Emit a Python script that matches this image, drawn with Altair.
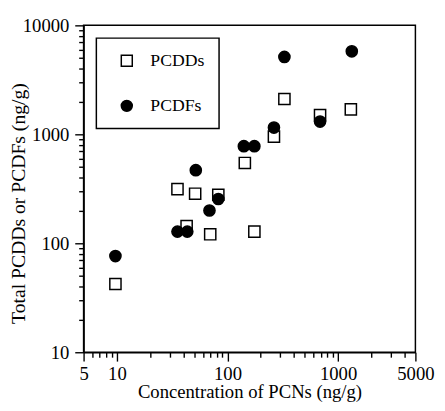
import altair as alt
import pandas as pd

# Values
series = ["PCDDs", "PCDFs"]
x_pcdd = [9.7, 35.3, 42.7, 51.0, 69.8, 82.6, 143.5, 175, 263, 327, 687, 1304]
y_pcdd = [42.3, 314, 144, 285, 121, 279, 546, 128, 951, 2110, 1503, 1692]
x_pcdf = [9.7, 35.3, 43.3, 51.7, 68.7, 82.6, 140.6, 175, 263, 327, 687, 1330]
y_pcdf = [76.3, 128, 128, 469, 200, 255, 778, 778, 1154, 5130, 1309, 5780]

x_major = [5, 10, 100, 1000, 5000]
x_minor = [6, 7, 8, 9, 20, 30, 40, 50, 60, 70, 80, 90,
           200, 300, 400, 500, 600, 700, 800, 900, 2000, 3000, 4000]
y_major = [10, 100, 1000, 10000]
y_minor = [20, 30, 40, 50, 60, 70, 80, 90, 200, 300, 400, 500, 600, 700, 800, 900,
           2000, 3000, 4000, 5000, 6000, 7000, 8000, 9000]

df = pd.DataFrame({
    "x": x_pcdd + x_pcdf,
    "y": y_pcdd + y_pcdf,
    "series": [series[0]] * len(x_pcdd) + [series[1]] * len(x_pcdf),
})

FONT = "Liberation Serif"


def major_test(vals):
    return "indexof([" + ",".join(str(v) for v in vals) + "], datum.value) >= 0"


def make_axis(major, minor, title, title_size, **kw):
    test = major_test(major)
    return alt.Axis(
        values=major + minor,
        format="d",
        labelExpr=test + " ? datum.label : ''",
        tickSize={"condition": {"test": test, "value": 9}, "value": 5},
        labelOverlap=False,
        labelFlush=False,
        grid=False,
        title=title,
        labelFont=FONT,
        labelFontSize=19,
        labelColor="black",
        titleFont=FONT,
        titleFontSize=title_size,
        titleFontWeight="normal",
        titleColor="black",
        titleBaseline="alphabetic",
        domainColor="black",
        domainWidth=1.5,
        tickColor="black",
        tickWidth=1.4,
        **kw,
    )


legend = alt.Legend(
    orient="none",
    legendX=13,
    legendY=13,
    title=None,
    strokeColor="black",
    padding=14,
    rowPadding=28,
    symbolOffset=8,
    labelOffset=15,
    labelFont=FONT,
    labelFontSize=18,
    labelColor="black",
    symbolStrokeColor="black",
    symbolStrokeWidth=1.5,
    symbolSize=125,
)

chart = alt.Chart(df).mark_point(
    size=130, strokeWidth=1.5, opacity=1
).encode(
    x=alt.X("x:Q", scale=alt.Scale(type="log", domain=[5, 5000], nice=False),
            axis=make_axis(x_major, x_minor, "Concentration of PCNs (ng/g)", 19,
                           labelPadding=4, titleY=46)),
    y=alt.Y("y:Q", scale=alt.Scale(type="log", domain=[10, 10000], nice=False),
            axis=make_axis(y_major, y_minor, "Total PCDDs or PCDFs (ng/g)", 20,
                           labelPadding=6, titleX=-60, titleY=181)),
    shape=alt.Shape("series:N", scale=alt.Scale(domain=series, range=["square", "circle"]), legend=legend),
    fill=alt.Fill("series:N", scale=alt.Scale(domain=series, range=["white", "black"]), legend=legend),
    stroke=alt.Stroke("series:N", scale=alt.Scale(domain=series, range=["black", "black"]), legend=legend),
).properties(
    width=338,
    height=333,
    autosize="none",
    padding={"left": 77, "top": 14, "right": 22, "bottom": 48},
).configure_view(
    stroke="black", strokeWidth=1.5
).configure_legend(
    strokeWidth=1.5
)

chart.save("out.html", embed_options={"renderer": "svg", "actions": False})
